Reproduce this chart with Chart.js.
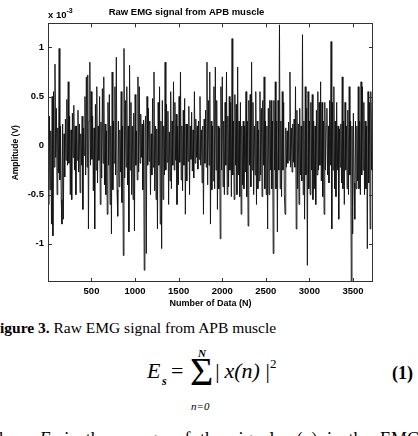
<!DOCTYPE html>
<html><head><meta charset="utf-8">
<script src="https://cdn.jsdelivr.net/npm/chart.js@4/dist/chart.umd.min.js"></script>
<style>
html,body{margin:0;padding:0;background:#fff;overflow:hidden;width:418px;height:436px;}
#wrap{position:relative;width:418px;height:436px;overflow:hidden;background:#fff;}
canvas{position:absolute;left:0;top:0;}
.t{position:absolute;white-space:nowrap;line-height:1;color:#000;}
.sans{font-family:"Liberation Sans",Arial,sans-serif;}
.serif{font-family:"Liberation Serif","Times New Roman",serif;}
</style></head><body>
<div id="wrap">
<canvas id="c" width="418" height="312"></canvas>
<div class="t sans" style="left:48px;top:10px;font-size:9.5px;font-weight:bold;">x 10<span style="font-size:7px;position:relative;top:-5px;">-3</span></div>

<div class="t serif" style="left:-9.5px;top:320px;font-size:15.5px;"><b>Figure 3.</b> Raw EMG signal from APB muscle</div>

<div class="t serif" style="left:147px;top:360px;font-size:22px;font-style:italic;">E</div>
<div class="t serif" style="left:162px;top:375px;font-size:12px;font-style:italic;font-weight:bold;">s</div>
<div class="t serif" style="left:171px;top:360px;font-size:22px;">=</div>
<div class="t serif" style="left:190px;top:352px;font-size:40px;">&Sigma;</div>
<div class="t serif" style="left:198px;top:348px;font-size:11px;font-style:italic;font-weight:bold;">N</div>
<div class="t serif" style="left:191px;top:401px;font-size:11px;font-style:italic;">n=0</div>
<div class="t serif" style="left:214px;top:360px;font-size:22px;font-style:italic;">|&thinsp;x(n)&thinsp;|</div>
<div class="t serif" style="left:270px;top:357px;font-size:13px;">2</div>
<div class="t serif" style="left:392px;top:364px;font-size:18px;font-weight:bold;">(1)</div>

<div class="t serif" style="left:-14px;top:430px;font-size:18px;word-spacing:5px;">where <i>E</i><span style="font-size:11px;position:relative;top:4px;"><i>s</i></span> is the energy of the signal, <i>x</i>(<i>n</i>) is the EMG</div>
</div>
<script>
// Tick labels (axis units: ×10^-3 V on y, sample number on x)
const xTickValues = [500, 1000, 1500, 2000, 2500, 3000, 3500];
const yTickValues = [-1, -0.5, 0, 0.5, 1];

const sampleStart = 1;
const sampleStep = 8;

// Amplitude (×10^-3 V)
const amplitude = [
  0.2,-0.6,0.3,-0.45,0.15,-0.8,0.5,-0.92,0.55,-0.22,0.83,-0.12,0.38,-0.5,0.18,-0.28,0.99,-0.35,0.2,-0.55,
  -0.8,0.22,-0.75,0.12,-0.32,0.27,-0.15,0.47,-0.2,0.65,-0.18,0.3,-0.5,0.16,-0.55,0.33,-0.12,0.41,-0.25,0.2,
  -0.5,0.2,-0.15,0.36,-0.27,0.22,-0.48,0.12,-0.2,0.3,-0.65,0.18,-0.1,0.5,-0.3,0.7,-0.22,0.72,-0.85,0.25,
  0.85,-0.2,0.55,-0.14,0.3,-0.46,0.18,-0.85,0.42,-0.25,0.6,-0.38,0.2,-0.15,0.5,-0.6,0.24,-0.33,0.58,-0.18,
  0.7,-0.4,0.22,-0.5,0.15,-0.7,0.44,-0.2,0.52,-0.6,0.2,-0.9,0.75,-0.45,0.25,-0.18,0.6,-0.3,0.9,-0.45,
  -0.72,0.25,-0.42,0.16,-0.27,0.55,-0.58,0.2,-1.12,0.99,-0.33,0.46,-0.22,0.6,-0.4,0.2,-0.88,0.82,-0.25,0.44,
  -0.5,0.2,-0.55,0.33,-0.87,0.52,-0.2,0.15,-0.35,0.7,-0.27,0.6,-0.18,0.32,-0.12,0.22,-0.45,0.26,-1.27,0.18,
  0.3,-1.1,0.5,-0.2,0.38,-0.16,0.25,-0.5,0.12,-0.3,0.48,-0.22,0.75,-0.46,0.2,-0.55,0.17,-0.85,0.44,-0.2,
  0.6,-0.8,0.25,-1.05,0.46,-0.55,0.2,-0.3,0.85,-0.25,0.42,-0.17,0.35,-0.6,0.14,-0.36,0.55,-0.44,0.25,-0.2,
  0.65,-0.25,0.44,-0.15,0.32,-0.6,0.2,-0.4,0.5,-0.17,0.75,-0.35,0.2,-0.46,0.36,-0.2,0.48,-0.7,0.22,-0.36,
  0.22,-0.16,0.4,-0.5,0.2,-0.14,0.34,-0.26,0.16,-0.33,0.55,-0.18,0.27,-0.12,0.2,-0.24,0.25,-0.14,0.5,-0.2,
  0.16,-0.38,0.2,-0.7,0.27,-0.18,0.36,-0.22,0.85,-0.4,0.46,-0.2,0.75,-0.8,0.25,-0.45,0.2,-0.36,0.6,-0.44,
  0.8,-0.25,0.46,-0.65,0.2,-0.44,0.18,-0.95,0.6,-0.25,0.7,-0.42,0.25,-0.5,0.44,-0.2,0.75,-0.5,0.3,-0.42,
  0.5,-0.25,0.44,-0.52,1.09,-0.3,0.25,-0.55,0.52,-0.2,0.42,-0.5,0.8,-0.3,0.25,-0.52,0.44,-0.7,0.2,-0.4,
  0.25,-0.44,0.2,-0.27,0.55,-0.52,0.25,-0.82,0.46,-0.2,0.52,-0.42,0.85,-0.25,0.44,-0.5,0.2,-0.3,0.55,-0.6,
  0.25,-0.44,0.16,-0.36,0.55,-0.3,0.38,-0.52,0.46,-0.2,0.7,-0.44,0.25,-0.5,0.2,-0.85,0.38,-0.5,0.46,-0.25,
  0.46,-0.44,0.25,-1.1,0.46,-0.25,0.65,-0.44,0.25,-0.88,0.46,-0.25,1.23,-0.44,0.25,-0.52,0.55,-0.25,0.44,-0.5,
  -0.7,0.18,-0.22,0.15,-0.18,0.24,-0.15,0.75,-0.22,0.18,-0.27,0.22,-0.17,0.27,-0.22,0.6,-0.85,0.36,-0.44,0.22,
  -0.6,0.38,-0.3,0.2,-0.36,1.13,-0.5,0.25,-0.75,0.6,-0.3,0.38,-1.22,0.55,-0.44,0.25,-0.5,0.44,-0.25,0.52,
  -0.55,0.25,-0.44,0.2,-0.6,0.36,-0.3,0.55,-0.25,0.44,-0.2,0.65,-0.36,0.44,-0.52,0.25,-0.7,0.44,-0.25,0.2,
  0.38,-0.3,0.2,-0.38,0.46,-0.2,1.06,-0.85,0.44,-0.25,0.6,-0.44,0.25,-0.52,0.44,-0.25,0.2,-0.75,0.17,-0.22,
  0.22,-0.38,0.7,-0.44,0.25,-0.6,0.44,-0.25,0.2,-0.44,0.36,-0.5,0.6,-0.3,0.25,-1.45,0.2,-0.9,0.33,-0.38,
  -0.75,0.25,-0.44,0.2,-0.36,0.6,-0.44,0.25,-0.5,0.65,-0.3,0.6,-0.25,0.44,-0.5,0.25,-0.44,0.2,-1.05,0.55,
  -0.38,0.44,-0.85,0.55,-0.25,0.44
];

const points = amplitude.map((v, i) => ({ x: sampleStart + i * sampleStep, y: v }));
const FONT = '"Liberation Sans", Arial, Helvetica, sans-serif';

const framePlugin = {
  id: 'frame',
  afterDraw(chart) {
    const { ctx, chartArea: { left, right, top, bottom }, scales: { x, y } } = chart;
    ctx.save();
    ctx.strokeStyle = '#333';
    ctx.lineWidth = 1;
    ctx.strokeRect(Math.round(left) + 0.5, Math.round(top) + 0.5, Math.round(right - left) - 1, Math.round(bottom - top) - 1);
    const L = 4;
    ctx.beginPath();
    x.ticks.forEach(t => {
      const px = Math.round(x.getPixelForValue(t.value)) + 0.5;
      ctx.moveTo(px, bottom); ctx.lineTo(px, bottom - L);
      ctx.moveTo(px, top); ctx.lineTo(px, top + L);
    });
    y.ticks.forEach(t => {
      const py = Math.round(y.getPixelForValue(t.value)) + 0.5;
      ctx.moveTo(left, py); ctx.lineTo(left + L, py);
      ctx.moveTo(right, py); ctx.lineTo(right - L, py);
    });
    ctx.stroke();
    ctx.restore();
  }
};

new Chart(document.getElementById('c'), {
  type: 'line',
  data: {
    datasets: [{
      data: points,
      borderColor: '#111111',
      borderWidth: 0.9,
      pointRadius: 0,
      tension: 0,
      fill: false
    }]
  },
  options: {
    responsive: false,
    devicePixelRatio: 1,
    animation: false,
    layout: { padding: { left: 0, right: 45, top: 0, bottom: 0 } },
    plugins: {
      legend: { display: false },
      tooltip: { enabled: false },
      title: {
        display: true,
        text: 'Raw EMG signal from APB muscle',
        color: '#000',
        font: { family: FONT, size: 9.5, weight: 'bold' },
        padding: { top: 7, bottom: 5 }
      }
    },
    scales: {
      x: {
        type: 'linear',
        min: 1,
        max: 3730,
        afterBuildTicks: s => { s.ticks = xTickValues.map(v => ({ value: v })); },
        afterFit: s => { s.height = 30; },
        grid: { display: false, drawTicks: false },
        border: { display: false },
        ticks: { padding: 4, color: '#000', font: { family: FONT, size: 9.5, weight: 'bold' }, callback: v => String(v), maxRotation: 0 },
        title: { display: true, text: 'Number of Data (N)', color: '#000', font: { family: FONT, size: 9, weight: 'bold' }, padding: { top: 0, bottom: 3 } }
      },
      y: {
        type: 'linear',
        min: -1.39,
        max: 1.245,
        afterBuildTicks: s => { s.ticks = yTickValues.map(v => ({ value: v })); },
        afterFit: s => { s.width = 48; },
        grid: { display: false, drawTicks: false },
        border: { display: false },
        ticks: { padding: 4, color: '#000', font: { family: FONT, size: 9.5, weight: 'bold' }, callback: v => String(v) },
        title: { display: true, text: 'Amplitude (V)', color: '#000', font: { family: FONT, size: 8.5, weight: 'bold' }, padding: { top: 11, bottom: 0 } }
      }
    }
  },
  plugins: [framePlugin]
});
</script>
</body></html>
